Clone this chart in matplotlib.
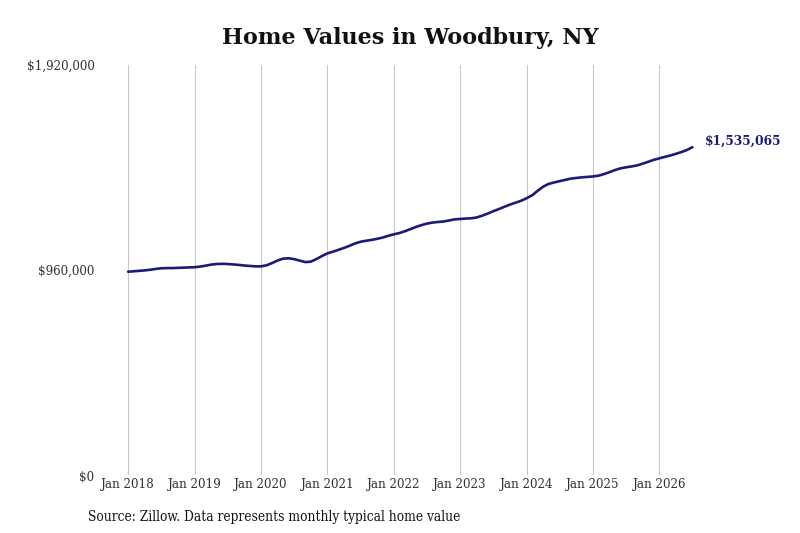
import matplotlib
matplotlib.use("Agg")
import matplotlib.pyplot as plt
import matplotlib.dates as mdates
import matplotlib.font_manager as fm
import numpy as np
import pandas as pd
from matplotlib.ticker import FuncFormatter, FixedLocator

# monthly typical home value, Jan 2018 .. Jul 2026
values_2018 = [952000, 954000, 956000, 958000, 961000, 965000, 968000, 969000, 969000, 970000, 971000, 972000]
values_2019 = [973000, 976000, 980000, 985000, 988000, 989000, 988000, 986000, 984000, 981000, 979000, 977000]
values_2020 = [977000, 982000, 992000, 1004000, 1013000, 1015000, 1011000, 1004000, 997000, 999000, 1011000, 1025000]
values_2021 = [1038000, 1046000, 1054000, 1063000, 1073000, 1084000, 1092000, 1097000, 1101000, 1106000, 1112000, 1120000]
values_2022 = [1127000, 1133000, 1141000, 1151000, 1161000, 1170000, 1177000, 1182000, 1185000, 1187000, 1192000, 1197000]
values_2023 = [1199000, 1201000, 1202000, 1206000, 1214000, 1224000, 1235000, 1245000, 1256000, 1266000, 1275000, 1284000]
values_2024 = [1296000, 1310000, 1330000, 1350000, 1363000, 1370000, 1376000, 1382000, 1388000, 1391000, 1394000, 1396000]
values_2025 = [1398000, 1402000, 1409000, 1418000, 1428000, 1436000, 1441000, 1445000, 1450000, 1458000, 1467000, 1476000]
values_2026 = [1483000, 1490000, 1496000, 1504000, 1512000, 1522000, 1535065]

values = (values_2018 + values_2019 + values_2020 + values_2021 + values_2022
          + values_2023 + values_2024 + values_2025 + values_2026)
dates = pd.date_range("2018-01-01", periods=len(values), freq="MS")

tick_years = [2018, 2019, 2020, 2021, 2022, 2023, 2024, 2025, 2026]
y_ticks = [0, 960000, 1920000]

title = "Home Values in Woodbury, NY"
source = "Source: Zillow. Data represents monthly typical home value"

line_color = "#1c1a78"
serif = "DejaVu Serif"
have_cond = any("Condensed" in f.name or f.stretch == "condensed"
                for f in fm.fontManager.ttflist if f.name.startswith("DejaVu Serif"))
stretch = "condensed" if have_cond else "normal"

fig = plt.figure(figsize=(8, 5.33), dpi=100)
ax = fig.add_axes([100 / 800, (533 - 475) / 533, 600 / 800, 410 / 533])

ax.plot(dates, values, color=line_color, linewidth=1.9, solid_capstyle="round", zorder=3)

ax.set_ylim(0, 1920000)
ax.set_xlim(pd.Timestamp("2017-07-30"), pd.Timestamp("2026-08-12"))

ax.xaxis.set_major_locator(FixedLocator([mdates.date2num(pd.Timestamp(f"{y}-01-01")) for y in tick_years]))
ax.set_xticklabels([f"Jan {y}" for y in tick_years])
ax.set_yticks(y_ticks)
ax.yaxis.set_major_formatter(FuncFormatter(lambda v, p: f"${v:,.0f}"))

ax.grid(axis="x", color="#c8c8c8", linewidth=0.8, zorder=0)
for s in ax.spines.values():
    s.set_visible(False)
ax.tick_params(length=0, labelsize=9.5, labelcolor="#333333")
ax.tick_params(axis="x", pad=2)
ax.tick_params(axis="y", pad=4)
for lab in ax.get_xticklabels() + ax.get_yticklabels():
    lab.set_family(serif)
    lab.set_stretch(stretch)

ax.annotate(f"${values[-1]:,}", xy=(dates[-1], values[-1]), xytext=(9, 4),
            textcoords="offset points", va="center", ha="left",
            fontsize=8.8, fontweight="bold", color=line_color, family=serif,
            annotation_clip=False)

fig.text(410 / 800, 1 - 38 / 533, title, ha="center", va="center",
         fontsize=16, fontweight="bold", family=serif, color="#111111")
fig.text(88 / 800, 1 - 517 / 533, source, ha="left", va="center",
         fontsize=9.8, family=serif, stretch=stretch, color="#111111")

fig.savefig("out.png", dpi=100)
